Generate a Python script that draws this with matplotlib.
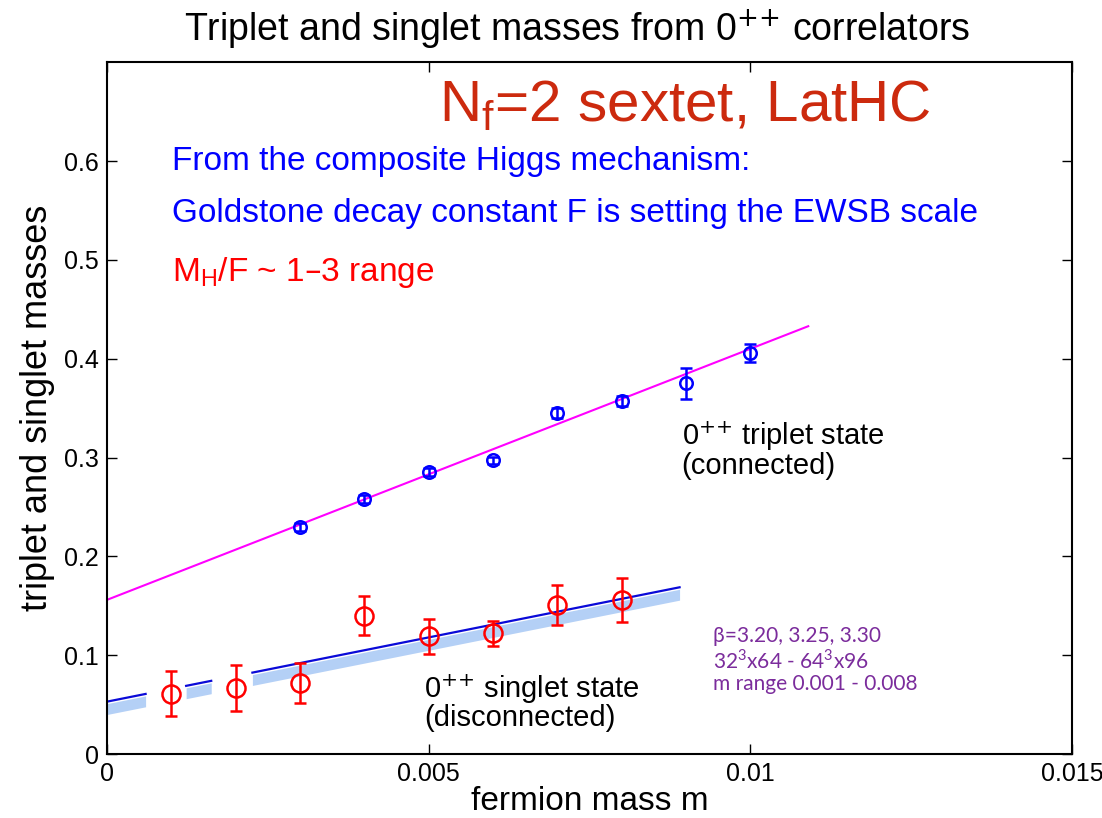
import matplotlib
matplotlib.use('Agg')
import matplotlib.pyplot as plt
import numpy as np

plt.rcParams['font.family'] = ['Liberation Sans', 'DejaVu Sans']

# 0++ triplet (connected)
m_trip = [0.003, 0.004, 0.005, 0.006, 0.007, 0.008, 0.009, 0.010]
M_trip = [0.230, 0.258, 0.285, 0.297, 0.345, 0.357, 0.375, 0.406]
E_trip = [0.004, 0.004, 0.004, 0.004, 0.005, 0.005, 0.016, 0.009]

# 0++ singlet (disconnected)
m_sing = [0.001, 0.002, 0.003, 0.004, 0.005, 0.006, 0.007, 0.008]
M_sing = [0.061, 0.067, 0.072, 0.140, 0.119, 0.122, 0.151, 0.156]
E_sing = [0.023, 0.023, 0.020, 0.020, 0.018, 0.013, 0.020, 0.022]

# linear fits (intercept, slope, x range)
trip_fit = (0.156, 25.4, 0.0, 0.0109)
sing_fit = (0.053, 13.0, 0.0, 0.0089)
# visible pieces of the singlet fit line / band
sing_pieces = [(0.0, 0.0006), (0.00123, 0.00162), (0.00226, 0.0089)]

fig = plt.figure(figsize=(11.02, 8.18), dpi=100)
ax = fig.add_axes([0.0971, 0.0782, 0.8757, 0.8458])

# singlet band and line
a, b = sing_fit[0], sing_fit[1]
for x0, x1 in sing_pieces:
    xs = np.linspace(x0, x1, 50)
    ax.fill_between(xs, a + b * xs - 0.013, a + b * xs - 0.002, color='#b4d0f6', lw=0, zorder=1)
    ax.plot(xs, a + b * xs, color='#0a0ad8', lw=1.6, zorder=2)

xs = np.linspace(trip_fit[2], trip_fit[3], 50)
ax.plot(xs, trip_fit[0] + trip_fit[1] * xs, color='#ff00ff', lw=1.5, zorder=2)

ax.errorbar(m_trip, M_trip, yerr=E_trip, fmt='o', mfc='none', mec='#0000ff', ecolor='#0000ff',
            ms=9, mew=1.8, elinewidth=1.8, capsize=4, capthick=1.8, zorder=3)
ax.errorbar(m_sing, M_sing, yerr=E_sing, fmt='o', mfc='none', mec='#ff0000', ecolor='#ff0000',
            ms=13, mew=1.8, elinewidth=1.8, capsize=4, capthick=1.8, zorder=3)

ax.set_xlim(0, 0.015)
ax.set_ylim(0, 0.7)
ax.set_xticks([0, 0.005, 0.01, 0.015])
ax.set_xticklabels(['0', '0.005', '0.01', '0.015'])
ax.set_yticks([0, 0.1, 0.2, 0.3, 0.4, 0.5, 0.6])
ax.set_yticklabels(['0', '0.1', '0.2', '0.3', '0.4', '0.5', '0.6'])
ax.tick_params(direction='in', top=True, right=True, length=7, width=1, labelsize=18, pad=6)
for s in ax.spines.values():
    s.set_linewidth(1.5)

ax.set_xlabel('fermion mass m', fontsize=24, labelpad=0)
ax.set_ylabel('triplet and singlet masses', fontsize=26, labelpad=6)
fig.text(0.524, 0.965, 'Triplet and singlet masses from 0$^{{+}{+}}$ correlators', fontsize=27,
         ha='center', va='center')

ax.text(0.00898, 0.656, 'N$_{\\mathregular{f}}$=2 sextet, LatHC', fontsize=42, color='#cc2a0e',
        ha='center', va='center')
ax.text(0.00101, 0.600, 'From the composite Higgs mechanism:', fontsize=24, color='#0000ff', va='center')
ax.text(0.00101, 0.547, 'Goldstone decay constant F is setting the EWSB scale', fontsize=24,
        color='#0000ff', va='center')
ax.text(0.00101, 0.487, 'M$_{\\mathregular{H}}$/F ~ 1\u20133 range', fontsize=24, color='#ff0000', va='center')

ax.text(0.00893, 0.308, '0$^{{+}{+}}$ triplet state\n(connected)', fontsize=21, va='center', linespacing=0.95)
ax.text(0.00493, 0.0525, '0$^{{+}{+}}$ singlet state\n(disconnected)', fontsize=21, va='center', linespacing=0.95)

ax.text(0.00942, 0.095, '\u03b2=3.20, 3.25, 3.30\n32$^{\\mathregular{3}}$x64 - 64$^{\\mathregular{3}}$x96\nm range 0.001 - 0.008',
        fontsize=15, color='#7b2c9c', va='center', family=['Lato', 'DejaVu Sans'], linespacing=1.1)

fig.savefig('out.png', dpi=100)
